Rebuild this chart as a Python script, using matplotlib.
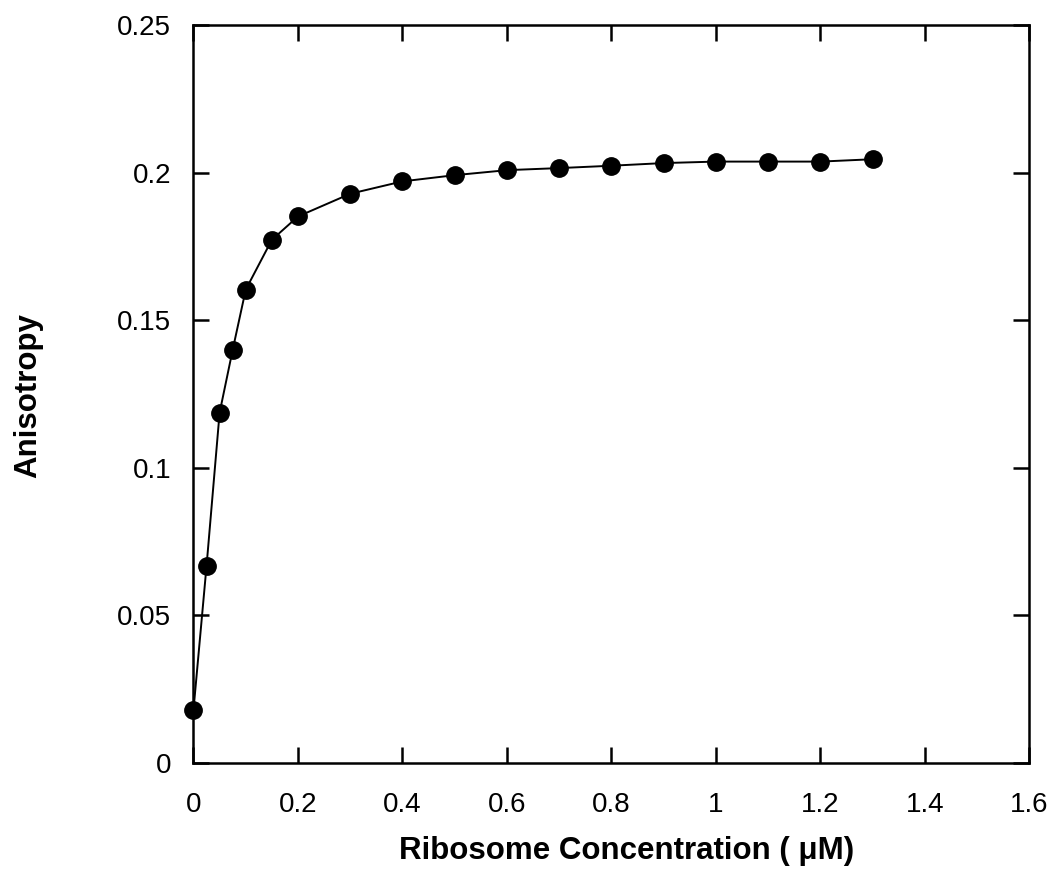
import numpy as np
import matplotlib
matplotlib.use('Agg')
import matplotlib.pyplot as plt

# ribosome concentration (uM) and measured anisotropy
conc = [0.0, 0.025, 0.05, 0.075, 0.1, 0.15, 0.2, 0.3, 0.4, 0.5,
        0.6, 0.7, 0.8, 0.9, 1.0, 1.1, 1.2, 1.3]
aniso = [0.0179, 0.0667, 0.1186, 0.1399, 0.1603, 0.1772, 0.1851, 0.1928,
         0.1970, 0.1991, 0.2008, 0.2015, 0.2023, 0.2032, 0.2037, 0.2037,
         0.2037, 0.2045]

xticks = [0, 0.2, 0.4, 0.6, 0.8, 1.0, 1.2, 1.4, 1.6]
xticklabels = ['0', '0.2', '0.4', '0.6', '0.8', '1', '1.2', '1.4', '1.6']
yticks = [0, 0.05, 0.1, 0.15, 0.2, 0.25]
yticklabels = ['0', '0.05', '0.1', '0.15', '0.2', '0.25']

plt.rcParams['font.family'] = ['Liberation Sans', 'DejaVu Sans']

fig = plt.figure(figsize=(10.55, 8.92), dpi=100)
ax = fig.add_axes([0.1834, 0.145, 0.7924, 0.827])

ax.plot(conc, aniso, color='black', lw=1.4, marker='o', ms=12.5,
        mfc='black', mec='black', clip_on=False, zorder=3)

ax.set_xlim(0, 1.6)
ax.set_ylim(0, 0.25)
ax.set_xticks(xticks)
ax.set_xticklabels(xticklabels)
ax.set_yticks(yticks)
ax.set_yticklabels(yticklabels)

for s in ax.spines.values():
    s.set_linewidth(1.8)
ax.tick_params(direction='in', length=11.5, width=1.8, labelsize=20,
               top=True, right=True)
ax.tick_params(axis='x', pad=21)
ax.tick_params(axis='y', pad=16)

ax.set_xlabel('Ribosome Concentration ( \u03bcM)', fontsize=22.5,
              fontweight='bold')
ax.set_ylabel('Anisotropy', fontsize=22.5, fontweight='bold')
# label placement (axes fraction) as in the original figure
ax.xaxis.set_label_coords(0.5186, -0.0988)
ax.yaxis.set_label_coords(-0.180, 0.497)

fig.savefig('out.png', dpi=100)
